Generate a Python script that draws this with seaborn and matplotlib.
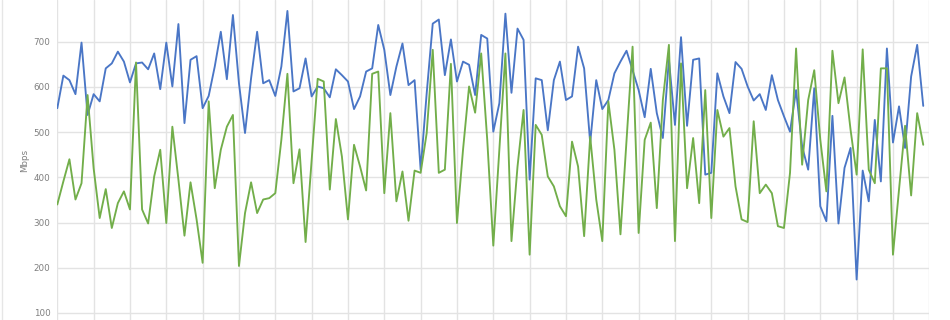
import matplotlib
matplotlib.use("Agg")
import matplotlib.pyplot as plt
from matplotlib.lines import Line2D
import seaborn as sns
import pandas as pd
import numpy as np

blue_values = [
    553, 625, 615, 584, 698, 538, 584, 568, 641, 652, 678, 656, 610, 652, 654, 639, 674, 595,
    698, 601, 739, 520, 660, 668, 553, 580, 645, 722, 617, 759, 608, 498, 619, 722, 608, 615,
    580, 645, 768, 590, 597, 663, 579, 601, 597, 577, 639, 626, 612, 551, 579, 634, 641, 737,
    682, 582, 645, 696, 604, 615, 417, 586, 740, 749, 626, 705, 612, 656, 649, 582, 715, 707,
    501, 564, 762, 587, 729, 704, 395, 619, 615, 504, 615, 656, 571, 579, 689, 641, 477, 615,
    551, 571, 630, 656, 680, 637, 593, 533, 640, 542, 487, 660, 516, 710, 514, 660, 663, 406,
    410, 630, 579, 542, 655, 640, 601, 570, 584, 549, 626, 571, 535, 501, 593, 468, 417, 597,
    336, 303, 536, 298, 421, 465, 174, 415, 347, 527, 391, 685, 477, 557, 465, 623, 693, 558,
]
green_values = [
    340, 391, 440, 351, 387, 582, 420, 310, 374, 288, 343, 369, 329, 654, 329, 298, 402, 461,
    299, 512, 395, 271, 389, 307, 211, 568, 376, 461, 512, 538, 204, 321, 389, 321, 351, 354,
    365, 483, 629, 387, 462, 257, 439, 618, 612, 373, 529, 446, 307, 472, 424, 371, 629, 634,
    365, 542, 347, 413, 304, 415, 410, 498, 682, 410, 417, 651, 299, 461, 601, 543, 674, 483,
    249, 461, 674, 259, 424, 549, 229, 516, 494, 402, 380, 336, 314, 479, 424, 270, 490, 351,
    259, 568, 461, 274, 483, 689, 277, 483, 521, 332, 571, 693, 259, 652, 376, 487, 343, 593,
    310, 549, 490, 509, 380, 307, 301, 524, 365, 384, 365, 292, 288, 410, 685, 428, 571, 637,
    483, 369, 680, 564, 621, 505, 406, 683, 417, 387, 641, 641, 229, 373, 514, 360, 542, 472,
]
y_ticks = [100, 200, 300, 400, 500, 600, 700]
y_label = "Mbps"

n = len(blue_values)
df = pd.DataFrame({
    "idx": list(range(n)) * 2,
    "value": blue_values + green_values,
    "series": ["blue"] * n + ["green"] * n,
})

sns.set_theme(style="white")
plt.rcParams["font.family"] = ["DejaVu Sans"]

W, H = 950, 320
fig = plt.figure(figsize=(W / 100, H / 100), dpi=100)
left_px, right_px = 57.3, 929.3
ax = fig.add_axes([left_px / W, 0, (right_px - left_px) / W, 1])

sns.lineplot(data=df, x="idx", y="value", hue="series",
             palette={"blue": "#4a76c6", "green": "#72ae4a"},
             linewidth=1.35, legend=False, ax=ax, zorder=3)

# y mapping: 700 at px 41.7 from top, 100 at px 313
s = (313 - 41.7) / 600.0
ytop = 700 + 41.7 / s
ybot = 100 - (H - 313) / s
ax.set_ylim(ybot, ytop)
ax.set_xlim(0, 144)

ax.set_yticks(y_ticks)
ax.set_yticklabels([str(v) for v in y_ticks], fontsize=6.3, color="#7f7f7f")
ax.set_xticks(np.arange(0, 145, 6))
ax.set_xticklabels([])
ax.tick_params(axis="both", length=0)
ax.tick_params(axis="y", pad=5)
ax.grid(True, color="#e3e3e3", linewidth=1.0, zorder=0)
ax.set_axisbelow(True)
for sp in ax.spines.values():
    sp.set_visible(False)
ax.set_xlabel("")
ax.set_ylabel(y_label, fontsize=6.3, color="#7f7f7f", labelpad=3)

fig.add_artist(Line2D([1.5 / W, 1.5 / W], [0, 1], color="#e6e6e6", linewidth=1.0))

fig.savefig("out.png", dpi=100, facecolor="white")
